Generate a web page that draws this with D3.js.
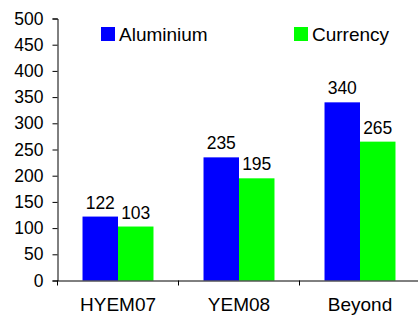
<!DOCTYPE html>
<html>
<head>
<meta charset="utf-8">
<script src="https://d3js.org/d3.v7.min.js"></script>
<style>
  body { margin: 0; background: #fff; }
  svg { display: block; font-family: "Liberation Sans", Arial, sans-serif; }
</style>
</head>
<body>
<script>
  // chart data
  var categories = ["HYEM07", "YEM08", "Beyond"];
  var seriesNames = ["Aluminium", "Currency"];
  var aluminium = [122, 235, 340];
  var currency = [103, 195, 265];
  var yTicks = [0, 50, 100, 150, 200, 250, 300, 350, 400, 450, 500];

  var colors = { "Aluminium": "#0000ff", "Currency": "#00ff00" };

  var width = 418,
      height = 320;

  var svg = d3.select("body").append("svg")
      .attr("width", width)
      .attr("height", height);

  var rows = categories.map(function(c, i) {
    return { cat: c, values: [
      { name: "Aluminium", value: aluminium[i] },
      { name: "Currency", value: currency[i] }
    ]};
  });

  // plot runs off the right edge like the original
  var x0 = d3.scaleBand()
      .domain(categories)
      .range([57.5, 420.5])
      .padding(0);

  var x1 = d3.scaleBand()
      .domain(seriesNames)
      .range([0, x0.bandwidth()])
      .paddingInner(0)
      .paddingOuter(0.705);

  var y = d3.scaleLinear()
      .domain([0, 500])
      .range([280.5, 18.5]);

  // y axis
  var yAxis = svg.append("g")
      .attr("transform", "translate(57.5,0)")
      .call(d3.axisLeft(y).tickValues(yTicks).tickSize(5).tickPadding(9));
  yAxis.select(".domain").attr("stroke", "#000");
  yAxis.selectAll(".tick line").attr("stroke", "#000");
  yAxis.selectAll("text")
      .attr("font-size", "17.5px")
      .attr("font-family", "Liberation Sans, Arial, sans-serif")
      .attr("fill", "#000");

  // bars
  var groups = svg.append("g").selectAll("g")
      .data(rows)
      .enter().append("g")
      .attr("transform", function(d) { return "translate(" + x0(d.cat) + ",0)"; });

  groups.selectAll("rect")
      .data(function(d) { return d.values; })
      .enter().append("rect")
      .attr("x", function(d) { return x1(d.name); })
      .attr("y", function(d) { return y(d.value); })
      .attr("width", x1.bandwidth())
      .attr("height", function(d) { return y(0) - y(d.value); })
      .attr("fill", function(d) { return colors[d.name]; });

  groups.selectAll("text")
      .data(function(d) { return d.values; })
      .enter().append("text")
      .attr("x", function(d) { return x1(d.name) + x1.bandwidth() / 2; })
      .attr("y", function(d) { return y(d.value) - 8; })
      .attr("text-anchor", "middle")
      .attr("font-size", "17.5px")
      .attr("fill", "#000")
      .text(function(d) { return d.value; });

  // x axis (drawn after bars so the baseline sits on top)
  var xAxis = svg.append("g")
      .attr("transform", "translate(0,280.5)")
      .call(d3.axisBottom(x0).tickSize(0).tickPadding(17));
  xAxis.select(".domain").attr("stroke", "#000");
  xAxis.selectAll("text")
      .attr("font-size", "19px")
      .attr("font-family", "Liberation Sans, Arial, sans-serif")
      .attr("fill", "#000");

  // tick marks between categories
  xAxis.selectAll(".sep")
      .data(categories)
      .enter().append("line")
      .attr("class", "sep")
      .attr("x1", function(d) { return x0(d); })
      .attr("x2", function(d) { return x0(d); })
      .attr("y1", 0)
      .attr("y2", 5)
      .attr("stroke", "#000");

  // legend
  var legendX = [101, 294];
  var legend = svg.append("g").selectAll("g")
      .data(seriesNames)
      .enter().append("g")
      .attr("transform", function(d, i) { return "translate(" + legendX[i] + ",27)"; });

  legend.append("rect")
      .attr("width", 14)
      .attr("height", 14)
      .attr("fill", function(d) { return colors[d]; });

  legend.append("text")
      .attr("x", 18)
      .attr("y", 14)
      .attr("font-size", "19px")
      .attr("fill", "#000")
      .text(function(d) { return d; });
</script>
</body>
</html>
